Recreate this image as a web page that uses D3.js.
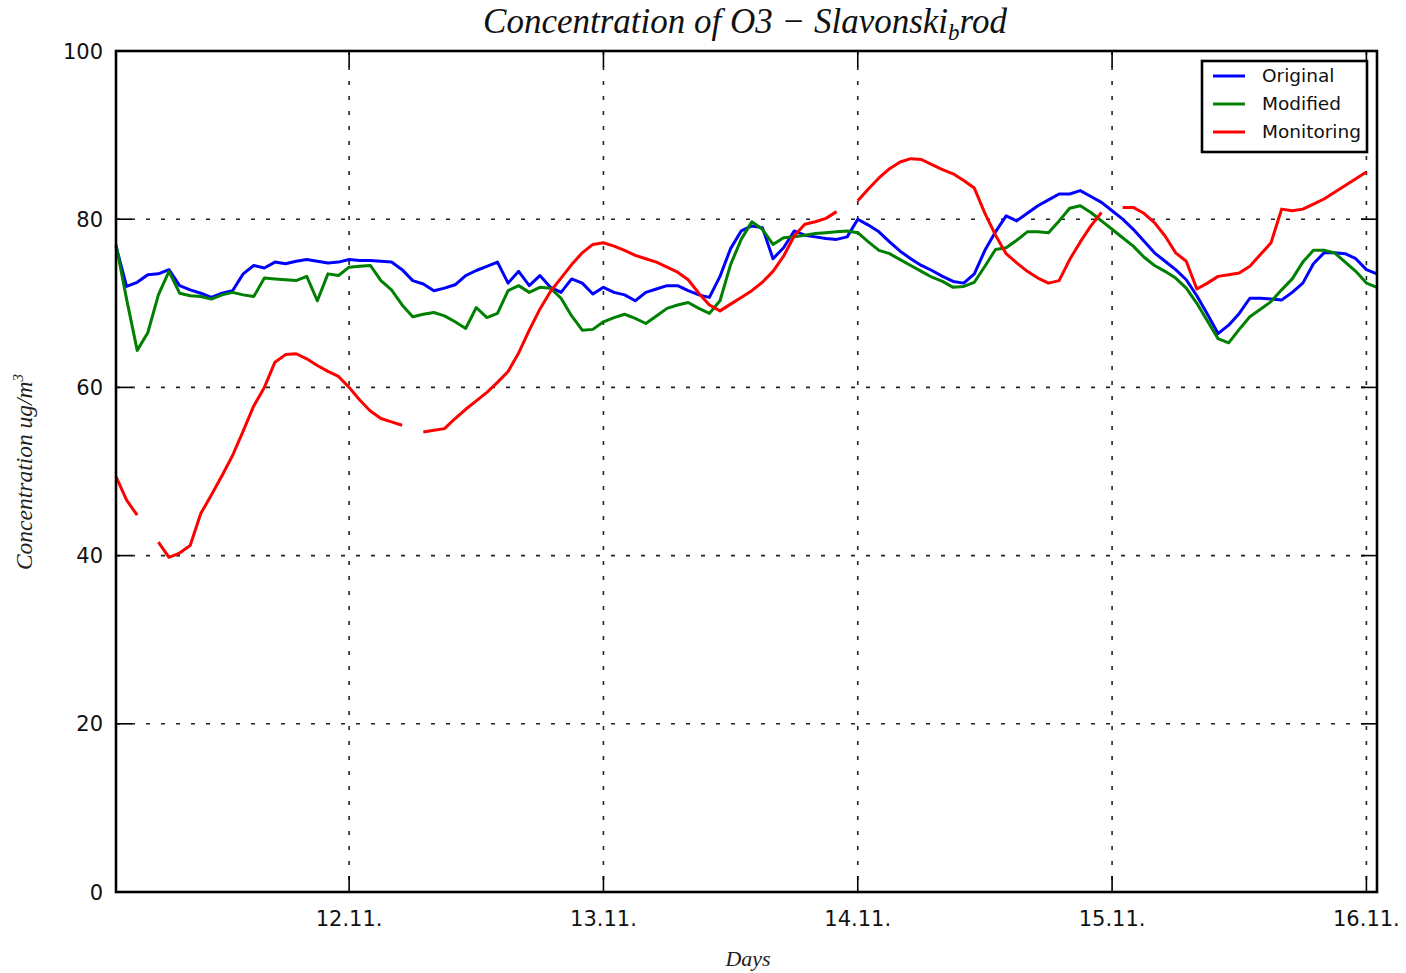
<!DOCTYPE html>
<html>
<head>
<meta charset="utf-8">
<script src="https://cdn.jsdelivr.net/npm/d3@7"></script>
<style>
  body { margin: 0; background: #fff; }
  svg { display: block; }
</style>
</head>
<body>
<div id="chart"></div>
<script>
// hours counted from 11.11. 00:00, one sample per hour
const hours = d3.range(2, 122);

const dayTicks = [24, 48, 72, 96, 120];
const dayLabels = ["12.11.", "13.11.", "14.11.", "15.11.", "16.11."];
const yTicks = [0, 20, 40, 60, 80, 100];

const original = [
  76.8, 72.0, 72.5, 73.4, 73.5, 74.0, 72.1, 71.6, 71.2, 70.7,
  71.2, 71.5, 73.5, 74.5, 74.2, 74.9, 74.7, 75.0, 75.2, 75.0,
  74.8, 74.9, 75.2, 75.1, 75.1, 75.0, 74.9, 74.0, 72.7, 72.3,
  71.5, 71.8, 72.2, 73.3, 73.9, 74.4, 74.9, 72.4, 73.8, 72.1,
  73.3, 71.9, 71.3, 72.9, 72.4, 71.1, 71.9, 71.3, 71.0, 70.3,
  71.3, 71.7, 72.1, 72.1, 71.5, 71.0, 70.7, 73.2, 76.5, 78.6,
  79.2, 79.0, 75.3, 76.6, 78.6, 78.1, 77.9, 77.7, 77.6, 77.9,
  80.0, 79.3, 78.5, 77.3, 76.2, 75.3, 74.5, 73.9, 73.2, 72.6,
  72.4, 73.5, 76.3, 78.5, 80.4, 79.8, 80.7, 81.6, 82.3, 83.0,
  83.0, 83.4, 82.7, 82.0, 81.0, 80.0, 78.8, 77.4, 76.0, 75.0,
  74.0, 72.8, 70.9, 68.7, 66.4, 67.4, 68.8, 70.6, 70.6, 70.5,
  70.4, 71.3, 72.4, 74.7, 76.0, 76.0, 75.9, 75.3, 74.0, 73.5
];

const modified = [
  77.0, 70.5, 64.4, 66.5, 71.0, 73.8, 71.2, 70.9, 70.8, 70.5,
  71.0, 71.3, 71.0, 70.8, 73.0, 72.9, 72.8, 72.7, 73.2, 70.3,
  73.5, 73.3, 74.3, 74.4, 74.5, 72.7, 71.6, 69.8, 68.4, 68.7,
  68.9, 68.5, 67.8, 67.0, 69.5, 68.3, 68.8, 71.5, 72.1, 71.3,
  71.9, 71.8, 70.6, 68.5, 66.8, 66.9, 67.8, 68.3, 68.7, 68.2,
  67.6, 68.5, 69.4, 69.8, 70.1, 69.4, 68.8, 70.3, 74.6, 77.6,
  79.7, 78.8, 77.0, 77.8, 77.9, 78.1, 78.3, 78.4, 78.5, 78.6,
  78.4, 77.3, 76.3, 75.9, 75.2, 74.5, 73.8, 73.1, 72.6, 71.9,
  72.0, 72.5, 74.4, 76.4, 76.6, 77.5, 78.5, 78.5, 78.4, 79.8,
  81.3, 81.6, 80.8, 79.8, 78.8, 77.8, 76.8, 75.5, 74.5, 73.8,
  73.0, 71.8, 70.0, 67.9, 65.8, 65.3, 66.9, 68.4, 69.3, 70.2,
  71.6, 72.9, 74.9, 76.3, 76.3, 76.0, 74.9, 73.8, 72.4, 71.9
];

const monitoring = [
  49.4, 46.6, 44.8, null, 41.6, 39.8, 40.3, 41.2, 45.0, 47.2,
  49.5, 51.9, 54.8, 57.8, 60.0, 63.0, 63.9, 64.0, 63.4, 62.6,
  61.9, 61.3, 60.0, 58.5, 57.2, 56.3, 55.9, 55.5, null, 54.7,
  54.9, 55.1, 56.3, 57.4, 58.4, 59.4, 60.6, 61.9, 64.1, 66.8,
  69.3, 71.4, 73.0, 74.6, 76.0, 77.0, 77.2, 76.8, 76.3, 75.7,
  75.3, 74.9, 74.3, 73.7, 72.8, 71.2, 69.8, 69.1, 69.9, 70.7,
  71.5, 72.5, 73.8, 75.6, 78.0, 79.4, 79.7, 80.1, 80.9, null,
  82.2, 83.6, 84.9, 86.0, 86.8, 87.2, 87.1, 86.5, 85.9, 85.4,
  84.6, 83.7, 80.7, 78.1, 75.9, 74.8, 73.8, 73.0, 72.4, 72.7,
  75.2, 77.3, 79.2, 80.8, null, 81.4, 81.4, 80.7, 79.6, 78.0,
  76.0, 75.0, 71.7, 72.4, 73.2, 73.4, 73.6, 74.4, 75.8, 77.2,
  81.2, 81.0, 81.2, 81.8, 82.4, 83.2, 84.0, 84.8, 85.6, null
];

const seriesNames = ["Original", "Modified", "Monitoring"];
const seriesColors = ["#0000ff", "#008000", "#ff0000"];
const seriesValues = [original, modified, monitoring];

const W = 1406, H = 973;
const margin = {top: 51, right: 29, bottom: 81, left: 116};
const width = W - margin.left - margin.right;
const height = H - margin.top - margin.bottom;

const svg = d3.select("#chart").append("svg")
    .attr("width", W)
    .attr("height", H);

const g = svg.append("g")
    .attr("transform", `translate(${margin.left},${margin.top})`);

const x = d3.scaleLinear().domain([2, 121]).range([0, width]);
const y = d3.scaleLinear().domain([0, 100]).range([height, 0]);

// grid
const gridStyle = sel => sel
    .attr("stroke", "#222")
    .attr("stroke-width", 1.6)
    .attr("stroke-dasharray", "4,11");

g.append("g").selectAll("line")
    .data(yTicks.filter(d => d > 0 && d < 100))
    .join("line")
    .attr("x1", 0).attr("x2", width)
    .attr("y1", d => y(d)).attr("y2", d => y(d))
    .call(gridStyle);

g.append("g").selectAll("line")
    .data(dayTicks)
    .join("line")
    .attr("x1", d => x(d)).attr("x2", d => x(d))
    .attr("y1", 0).attr("y2", height)
    .call(gridStyle);

// series lines
const line = d3.line()
    .defined(d => d.v != null)
    .x(d => x(d.h))
    .y(d => y(d.v));

seriesValues.forEach((vals, i) => {
    g.append("path")
        .datum(hours.map((h, k) => ({h: h, v: vals[k]})))
        .attr("fill", "none")
        .attr("stroke", seriesColors[i])
        .attr("stroke-width", 3)
        .attr("stroke-linejoin", "round")
        .attr("d", line);
});

// inward ticks on all four sides
const tickLen = 16;
const ticks = g.append("g").attr("stroke", "#000").attr("stroke-width", 1.6);
yTicks.forEach(t => {
    ticks.append("line").attr("x1", 0).attr("x2", tickLen).attr("y1", y(t)).attr("y2", y(t));
    ticks.append("line").attr("x1", width - tickLen).attr("x2", width).attr("y1", y(t)).attr("y2", y(t));
});
dayTicks.forEach(t => {
    ticks.append("line").attr("x1", x(t)).attr("x2", x(t)).attr("y1", height).attr("y2", height - tickLen);
    ticks.append("line").attr("x1", x(t)).attr("x2", x(t)).attr("y1", 0).attr("y2", tickLen);
});

// frame
g.append("rect")
    .attr("width", width)
    .attr("height", height)
    .attr("fill", "none")
    .attr("stroke", "#000")
    .attr("stroke-width", 2.6);

// tick labels
g.append("g").selectAll("text")
    .data(yTicks)
    .join("text")
    .attr("x", -13)
    .attr("y", d => y(d))
    .attr("dy", "0.36em")
    .attr("text-anchor", "end")
    .attr("font-family", "DejaVu Sans")
    .attr("font-size", 21)
    .attr("fill", "#111")
    .text(d => d);

g.append("g").selectAll("text")
    .data(dayTicks)
    .join("text")
    .attr("x", d => x(d))
    .attr("y", height + 34)
    .attr("text-anchor", "middle")
    .attr("font-family", "DejaVu Sans")
    .attr("font-size", 21)
    .attr("fill", "#111")
    .text((d, i) => dayLabels[i]);

// title
const title = svg.append("text")
    .attr("x", 745)
    .attr("y", 33)
    .attr("text-anchor", "middle")
    .attr("font-family", "Liberation Serif")
    .attr("font-style", "italic")
    .attr("font-size", 35)
    .attr("fill", "#111");
title.append("tspan").text("Concentration of O3 \u2212 Slavonski");
title.append("tspan").attr("font-size", 23).attr("dy", 7).text("b");
title.append("tspan").attr("dy", -7).text("rod");

// axis labels
svg.append("text")
    .attr("x", 748)
    .attr("y", 966)
    .attr("text-anchor", "middle")
    .attr("font-family", "Liberation Serif")
    .attr("font-style", "italic")
    .attr("font-size", 22)
    .attr("fill", "#222")
    .text("Days");

const ylab = svg.append("text")
    .attr("transform", "translate(32,472) rotate(-90)")
    .attr("text-anchor", "middle")
    .attr("font-family", "Liberation Serif")
    .attr("font-style", "italic")
    .attr("font-size", 23.5)
    .attr("fill", "#222");
ylab.append("tspan").text("Concentration ug/m");
ylab.append("tspan").attr("font-size", 15).attr("dy", -9).text("3");

// legend
const legend = svg.append("g").attr("transform", "translate(1202,61)");
legend.append("rect")
    .attr("width", 165)
    .attr("height", 91)
    .attr("fill", "#fff")
    .attr("stroke", "#000")
    .attr("stroke-width", 2.6);
seriesNames.forEach((name, i) => {
    const ry = 15 + i * 28;
    legend.append("line")
        .attr("x1", 11).attr("x2", 43)
        .attr("y1", ry).attr("y2", ry)
        .attr("stroke", seriesColors[i])
        .attr("stroke-width", 3);
    legend.append("text")
        .attr("x", 60)
        .attr("y", ry)
        .attr("dy", "0.35em")
        .attr("font-family", "DejaVu Sans")
        .attr("font-size", 18.5)
        .attr("fill", "#111")
        .text(name);
});
</script>
</body>
</html>
